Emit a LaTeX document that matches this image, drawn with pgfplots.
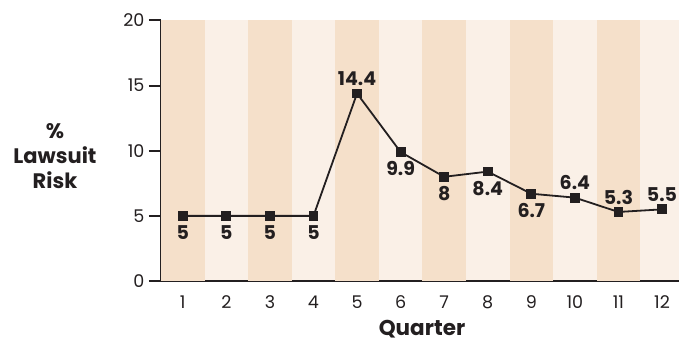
\documentclass[border=0pt]{standalone}
\usepackage{pgfplots}
\pgfplotsset{compat=1.18}
\usepackage{fontspec}
\setmainfont{Poppins}
\definecolor{bandA}{RGB}{245,224,202}
\definecolor{bandB}{RGB}{250,240,231}
\definecolor{ink}{RGB}{35,31,32}
\begin{document}
\begin{tikzpicture}
\begin{axis}[
  name=ax,
  scale only axis,
  width=518pt, height=260.5pt,
  xmin=0.5, xmax=12.39, ymin=0, ymax=20,
  axis lines*=left,
  axis line style={ink, line width=2pt},
  separate axis lines,
  y axis line style={-}, x axis line style={-},
  xtick={1,...,12},
  ytick={0,5,10,15,20},
  xtick style={draw=none},
  ytick style={ink, line width=2pt},
  tick align=outside,
  major tick length=12pt,
  tick label style={font=\fontsize{17.5}{20}\selectfont, text=ink},
  yticklabel style={xshift=-1pt},
  xticklabel style={yshift=1pt},
  /pgf/number format/assume math mode=true,
  axis background/.style={fill=bandB},
  clip=false,
  xlabel={\bfseries Quarter},
  xlabel style={font=\fontsize{21.5}{24}\selectfont, text=ink, inner sep=0pt, text depth=0pt,
    at={(axis description cs:0.5,0)}, anchor=base, yshift=-54pt, xshift=2pt},
]
\fill[bandA] (axis cs:0.5,0) rectangle (axis cs:1.5,20);
\fill[bandA] (axis cs:2.5,0) rectangle (axis cs:3.5,20);
\fill[bandA] (axis cs:4.5,0) rectangle (axis cs:5.5,20);
\fill[bandA] (axis cs:6.5,0) rectangle (axis cs:7.5,20);
\fill[bandA] (axis cs:8.5,0) rectangle (axis cs:9.5,20);
\fill[bandA] (axis cs:10.5,0) rectangle (axis cs:11.5,20);
\addplot[ink, line width=1.8pt, mark=square*, mark size=4pt, mark options={solid, fill=ink}]
  coordinates {(1,5)(2,5)(3,5)(4,5)(5,14.4)(6,9.9)(7,8)(8,8.4)(9,6.7)(10,6.4)(11,5.3)(12,5.5)};
\addplot[draw=none, mark=none, nodes near coords, nodes near coords align={below},
  every node near coord/.append style={font=\fontsize{19}{20}\selectfont\bfseries, text=ink, yshift=-6pt}]
  coordinates {(1,5)(2,5)(3,5)(4,5)(6,9.9)(7,8)(8,8.4)(9,6.7)};
\addplot[draw=none, mark=none, nodes near coords, nodes near coords align={above},
  every node near coord/.append style={font=\fontsize{19}{20}\selectfont\bfseries, text=ink, yshift=4pt}]
  coordinates {(5,14.4)(10,6.4)(11,5.3)(12,5.5)};
\node[font=\fontsize{21}{25}\selectfont\bfseries, text=ink, align=center] at ([xshift=-106pt]axis cs:0.5,9.6) {\%\\Lawsuit\\Risk};
\end{axis}
\pgfresetboundingbox
\path[use as bounding box] ([shift={(-161pt,-61pt)}]ax.south west) rectangle ([shift={(0pt,20.5pt)}]ax.north east);
\end{tikzpicture}
\end{document}
